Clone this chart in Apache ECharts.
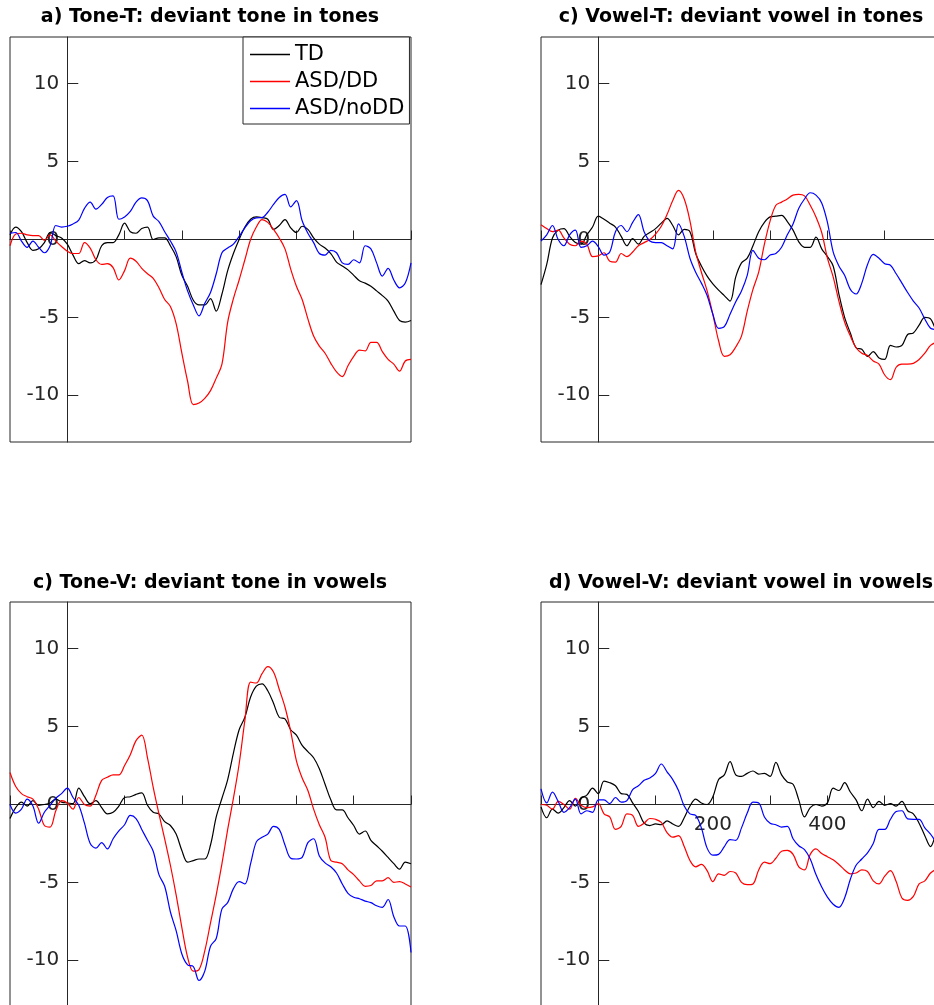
<!DOCTYPE html>
<html>
<head>
<meta charset="utf-8">
<script src="https://cdn.jsdelivr.net/npm/echarts@6/dist/echarts.min.js"></script>
<style>html,body{margin:0;padding:0;background:#fff}#chart{width:934px;height:1005px}</style>
</head>
<body>
<div id="chart"></div>
<script>
// ---- data ----
const times = [-100,-90,-80,-70,-60,-50,-40,-30,-20,-10,
  0,10,20,30,40,50,60,70,80,90,
  100,110,120,130,140,150,160,170,180,190,
  200,210,220,230,240,250,260,270,280,290,
  300,310,320,330,340,350,360,370,380,390,
  400,410,420,430,440,450,460,470,480,490,
  500,510,520,530,540,550,560,570,580,590,600];

const groupNames = ['TD', 'ASD/DD', 'ASD/noDD'];
const panelTitles = [
  'a) Tone-T: deviant tone in tones',
  'c) Vowel-T: deviant vowel in tones',
  'c) Tone-V: deviant tone in vowels',
  'd) Vowel-V: deviant vowel in vowels'
];
const yTickValues = [-10, -5, 0, 5, 10];
const xTickLabelsPanelD = [200, 400];

const toneT_TD = [0.3,0.8,0.5,-0.2,-0.7,-0.6,-0.2,0.45,0.25,0.1,
  -0.3,-1.0,-1.55,-1.35,-1.5,-1.3,-0.4,-0.2,-0.2,0.3,
  1.05,0.5,0.4,0.7,0.8,0.0,0.1,0.1,-0.4,-1.1,
  -2.3,-3.0,-3.9,-4.2,-4.2,-3.8,-4.6,-3.5,-2.0,-0.9,
  0.0,0.8,1.3,1.45,1.4,1.3,0.65,0.9,1.28,0.75,
  0.45,0.85,0.65,0.1,-0.3,-0.55,-0.9,-1.45,-1.7,-1.95,
  -2.3,-2.65,-2.8,-3.0,-3.3,-3.6,-3.95,-4.6,-5.2,-5.3,-5.2];
const toneT_ASDDD = [-0.4,0.35,0.4,0.3,0.25,0.25,-0.05,0.3,-0.1,-0.45,
  -0.75,-0.9,-0.9,-0.2,-0.55,-1.3,-1.6,-1.55,-1.8,-2.6,
  -2.0,-1.2,-1.4,-1.85,-2.2,-2.5,-3.1,-3.85,-4.3,-5.4,
  -7.3,-9.1,-10.6,-10.5,-10.2,-9.7,-8.9,-8.0,-5.3,-3.8,
  -2.6,-1.3,0.0,0.8,1.28,1.1,0.65,0.1,-0.6,-1.9,
  -3.0,-3.85,-5.1,-6.2,-6.85,-7.3,-7.95,-8.5,-8.8,-8.1,
  -7.5,-7.1,-7.15,-6.6,-6.6,-7.2,-7.7,-8.0,-8.45,-7.8,-7.7];
const toneT_ASDnoDD = [0.4,0.45,-0.1,-0.5,-0.1,-0.5,-0.85,-0.4,0.9,0.8,
  0.85,1.0,1.25,2.0,2.4,1.95,2.25,2.7,2.8,1.3,
  1.45,1.8,2.4,2.67,2.5,1.5,1.15,0.5,-0.1,-0.8,
  -2.1,-3.3,-4.2,-4.9,-4.1,-3.4,-2.2,-0.85,-0.55,-0.3,
  0.2,0.75,1.2,1.39,1.4,1.75,2.25,2.7,2.9,2.1,
  2.5,1.2,0.4,-0.2,-0.9,-1.0,-0.7,-0.85,-1.5,-1.6,
  -1.3,-1.5,-0.4,-0.6,-1.5,-2.35,-1.85,-2.6,-3.1,-2.8,-1.5];

const vowelT_TD = [-2.9,-1.6,0.1,0.6,0.7,0.2,-0.2,-0.3,0.3,0.8,
  1.5,1.3,1.05,0.8,0.2,-0.4,0.05,-0.3,0.2,0.45,
  0.7,1.05,1.35,0.9,0.3,0.65,0.5,-0.9,-1.7,-2.35,
  -2.85,-3.25,-3.6,-3.95,-2.4,-1.5,-1.2,-0.4,0.5,1.1,
  1.45,1.5,1.55,1.15,0.6,-0.15,-0.5,-0.5,0.15,-0.6,
  -1.1,-1.7,-3.5,-5.0,-6.0,-6.95,-7.05,-7.5,-7.2,-7.6,
  -7.7,-6.8,-6.9,-6.8,-6.1,-6.0,-5.5,-5.0,-5.1,-5.8,-6.0];
const vowelT_ASDDD = [0.95,0.7,0.5,0.6,0.1,-0.3,-0.4,-0.1,-0.3,-1.1,
  -1.05,-0.85,-1.4,-1.45,-0.9,-1.1,-0.8,-0.4,-0.2,0.0,
  0.35,0.85,1.6,2.5,3.15,2.6,1.2,-0.8,-2.1,-3.3,
  -4.8,-6.5,-7.5,-7.4,-6.9,-6.2,-4.6,-3.2,-2.1,-0.3,
  1.2,2.2,2.4,2.6,2.85,2.9,2.8,2.2,1.45,0.45,
  -1.2,-2.4,-3.95,-5.3,-6.2,-6.95,-7.3,-7.45,-7.8,-8.0,
  -8.7,-9.0,-8.2,-8.0,-8.0,-7.95,-7.7,-7.3,-6.8,-6.6,-6.5];
const vowelT_ASDnoDD = [-0.1,0.3,0.9,0.0,-0.4,0.3,0.6,-0.5,-0.4,-0.1,
  -0.45,-1.0,-0.8,0.5,0.9,0.5,1.1,1.6,0.5,-0.1,
  -0.2,-0.2,-0.4,-0.6,1.0,0.2,-1.2,-2.1,-2.8,-3.6,
  -4.8,-5.7,-5.6,-4.8,-4.0,-3.3,-2.3,-0.7,-1.2,-1.3,
  -1.0,-0.9,-0.5,0.3,1.0,2.0,2.6,3.0,2.85,2.35,
  1.1,-0.8,-1.7,-2.3,-3.2,-3.5,-2.8,-1.6,-0.95,-1.2,
  -1.55,-1.65,-2.2,-2.8,-3.4,-3.95,-4.4,-5.1,-5.7,-5.8,-5.9];

const toneV_TD = [-0.9,-0.2,0.15,-0.1,0.25,-0.05,0.0,0.1,0.35,0.15,
  0.1,0.05,1.05,0.5,0.05,0.25,-0.2,-0.6,-0.5,-0.1,
  0.45,0.5,0.65,0.75,-0.05,-0.5,-0.6,-1.1,-1.35,-1.9,
  -2.95,-3.7,-3.6,-3.5,-3.5,-2.6,-0.8,0.4,1.6,3.3,
  4.8,5.6,6.9,7.6,7.75,7.3,6.5,5.6,5.5,4.8,
  4.45,3.8,3.4,3.0,2.3,1.3,0.3,-0.35,-0.35,-0.85,
  -1.35,-1.9,-1.7,-2.3,-2.65,-3.0,-3.4,-3.8,-4.15,-3.7,-3.8];
const toneV_ASDDD = [2.05,1.15,0.7,0.5,0.35,-0.3,-1.35,-1.45,-0.4,0.25,
  0.1,-0.3,0.45,0.0,-0.1,0.6,1.55,1.75,1.9,1.9,
  2.5,3.2,4.1,4.45,3.0,1.1,-0.6,-2.2,-3.9,-5.8,
  -7.9,-9.8,-10.7,-10.6,-9.4,-7.6,-5.8,-3.8,-1.6,0.4,
  2.6,5.4,7.85,7.8,8.4,8.85,8.5,7.4,6.26,4.7,
  2.8,1.7,0.9,-0.3,-1.3,-2.1,-3.6,-3.7,-3.8,-4.2,
  -4.5,-4.9,-5.25,-5.2,-4.9,-4.9,-4.7,-5.0,-4.95,-5.1,-5.3];
const toneV_ASDnoDD = [0.0,-0.55,-0.3,0.35,-0.1,-1.2,-0.5,-0.05,0.4,0.7,
  1.05,0.45,-0.05,-1.2,-2.5,-2.8,-2.45,-2.85,-2.2,-1.7,
  -1.3,-0.7,-0.9,-1.6,-2.3,-3.0,-4.5,-5.25,-6.9,-8.1,
  -9.6,-10.3,-10.4,-11.3,-10.7,-9.1,-8.6,-6.7,-6.3,-5.4,
  -4.95,-5.1,-3.8,-2.4,-2.1,-1.9,-1.4,-1.6,-2.6,-3.45,
  -3.5,-3.4,-2.45,-2.2,-3.3,-3.75,-4.0,-4.4,-5.1,-5.7,
  -5.95,-6.05,-6.2,-6.3,-6.5,-6.6,-6.1,-7.2,-7.8,-7.8,-9.5];

const vowelV_TD = [-0.15,-0.85,-0.3,-0.55,-0.2,0.25,-0.1,0.4,0.6,1.05,
  0.7,1.5,1.4,1.2,0.7,0.65,0.1,-0.45,-1.2,-1.35,
  -1.25,-1.3,-1.05,-1.25,-1.4,-0.85,-0.1,0.35,0.1,0.0,
  0.5,1.6,1.9,2.75,1.9,1.8,2.0,2.15,1.95,2.0,
  1.8,2.7,1.9,1.45,1.3,0.3,-0.8,-0.2,0.0,-0.1,
  0.1,1.05,0.9,1.4,0.8,0.3,-0.4,0.35,-0.2,0.2,
  -0.05,0.05,-0.1,0.2,-0.4,-0.6,-1.2,-2.0,-2.7,-1.9,-1.5];
const vowelV_ASDDD = [0.0,-0.05,-0.3,0.2,0.0,-0.3,0.4,-0.05,-0.2,-0.15,
  0.05,-0.6,-0.8,-1.6,-1.4,-0.6,-0.7,-1.4,-1.2,-0.9,
  -0.95,-1.15,-1.8,-2.1,-2.0,-2.7,-3.6,-4.0,-3.85,-4.25,
  -4.95,-4.45,-4.55,-4.3,-4.4,-5.0,-5.15,-5.1,-4.2,-3.7,
  -3.8,-3.45,-3.0,-2.95,-3.2,-4.0,-4.2,-3.2,-2.85,-3.15,
  -3.35,-3.55,-3.85,-4.2,-4.45,-4.4,-4.2,-4.3,-4.9,-5.1,
  -4.6,-4.25,-4.95,-6.0,-6.15,-5.9,-5.1,-4.9,-4.4,-4.15,-4.0];
const vowelV_ASDnoDD = [1.0,0.1,0.8,0.2,-0.5,-0.2,0.35,-0.6,-0.4,-0.5,
  0.3,0.3,0.05,0.45,0.15,0.25,0.95,1.2,1.55,1.7,
  2.0,2.6,2.1,1.6,0.9,-0.1,-0.6,-0.7,-1.5,-2.8,
  -3.25,-3.2,-2.7,-2.25,-2.3,-1.5,-0.55,0.15,0.1,-0.8,
  -1.2,-1.3,-1.45,-1.4,-2.2,-2.65,-2.9,-3.5,-4.5,-5.3,
  -5.95,-6.4,-6.6,-6.0,-4.8,-3.9,-3.5,-3.1,-2.5,-1.6,
  -1.6,-0.95,-0.45,-0.4,-0.92,-0.95,-0.95,-1.5,-1.9,-2.4,-2.6];

const panelValues = [
  [toneT_TD, toneT_ASDDD, toneT_ASDnoDD],
  [vowelT_TD, vowelT_ASDDD, vowelT_ASDnoDD],
  [toneV_TD, toneV_ASDDD, toneV_ASDnoDD],
  [vowelV_TD, vowelV_ASDDD, vowelV_ASDnoDD]
];

// ---- layout & style ----
const FONT = 'DejaVu Sans';
const AXIS_COLOR = '#262626';
const lineColors = ['#000000', '#ff0000', '#0000ff'];
const X_MIN = -100, X_MAX = 600, Y_MIN = -13, Y_MAX = 13;
const gridRects = [
  {left: 10, top: 37, width: 401, height: 405},
  {left: 541, top: 37, width: 401, height: 405},
  {left: 10, top: 602, width: 401, height: 405},
  {left: 541, top: 602, width: 401, height: 405}
];
const titlePos = [
  {x: 210, y: 8}, {x: 741, y: 8}, {x: 210, y: 574}, {x: 741, y: 574}
];

const chart = echarts.init(document.getElementById('chart'), null, {renderer: 'canvas'});

const grids = gridRects.map(r => Object.assign({
  show: true, borderColor: AXIS_COLOR, borderWidth: 1, backgroundColor: '#fff',
  containLabel: false, outerBoundsMode: 'none'
}, r));

// axes sit at the origin (like MATLAB 'origin' axis location)
const xAxes = gridRects.map((r, i) => ({
  type: 'value', gridIndex: i, min: X_MIN, max: X_MAX, interval: 100,
  position: 'bottom',
  offset: -r.height * (0 - Y_MIN) / (Y_MAX - Y_MIN),
  axisLine: {show: true, onZero: false, lineStyle: {color: AXIS_COLOR, width: 1}},
  axisTick: {show: true, inside: true, length: 9, lineStyle: {color: AXIS_COLOR, width: 1}},
  axisLabel: i === 3 ? {
    show: true, customValues: xTickLabelsPanelD, margin: 10,
    fontFamily: FONT, fontSize: 20, color: AXIS_COLOR
  } : {show: false},
  splitLine: {show: false}
}));

const yAxes = gridRects.map((r, i) => ({
  type: 'value', gridIndex: i, min: Y_MIN, max: Y_MAX,
  position: 'left',
  offset: -r.width * (0 - X_MIN) / (X_MAX - X_MIN),
  axisLine: {show: true, onZero: false, lineStyle: {color: AXIS_COLOR, width: 1}},
  axisTick: {show: true, inside: true, length: 11, customValues: yTickValues, lineStyle: {color: AXIS_COLOR, width: 1}},
  axisLabel: {show: true, customValues: yTickValues, margin: 8, fontFamily: FONT, fontSize: 20, color: AXIS_COLOR},
  splitLine: {show: false}
}));

const series = [];
panelValues.forEach((vals, p) => {
  vals.forEach((arr, g) => {
    series.push({
      type: 'line', name: groupNames[g], xAxisIndex: p, yAxisIndex: p,
      data: times.map((t, k) => [t, arr[k]]),
      showSymbol: false, symbol: 'none', smooth: 0.35,
      lineStyle: {color: lineColors[g], width: 1.2},
      itemStyle: {color: lineColors[g]},
      emphasis: {disabled: true}, animation: false, z: 3
    });
  });
});

chart.setOption({
  animation: false,
  backgroundColor: '#fff',
  title: panelTitles.map((t, i) => ({
    text: t, left: titlePos[i].x, top: titlePos[i].y, textAlign: 'center', padding: 0,
    textStyle: {fontFamily: FONT, fontWeight: 'bold', fontSize: 19, color: '#000'}
  })),
  legend: {
    data: groupNames, orient: 'vertical', left: 243, top: 37,
    icon: 'rect', itemWidth: 40, itemHeight: 1.5, itemGap: 6,
    padding: [7, 5, 5, 7],
    borderColor: AXIS_COLOR, borderWidth: 1, backgroundColor: '#fff',
    textStyle: {fontFamily: FONT, fontSize: 21, color: '#000'},
    selectedMode: false
  },
  grid: grids,
  xAxis: xAxes,
  yAxis: yAxes,
  series: series
});
</script>
</body>
</html>
